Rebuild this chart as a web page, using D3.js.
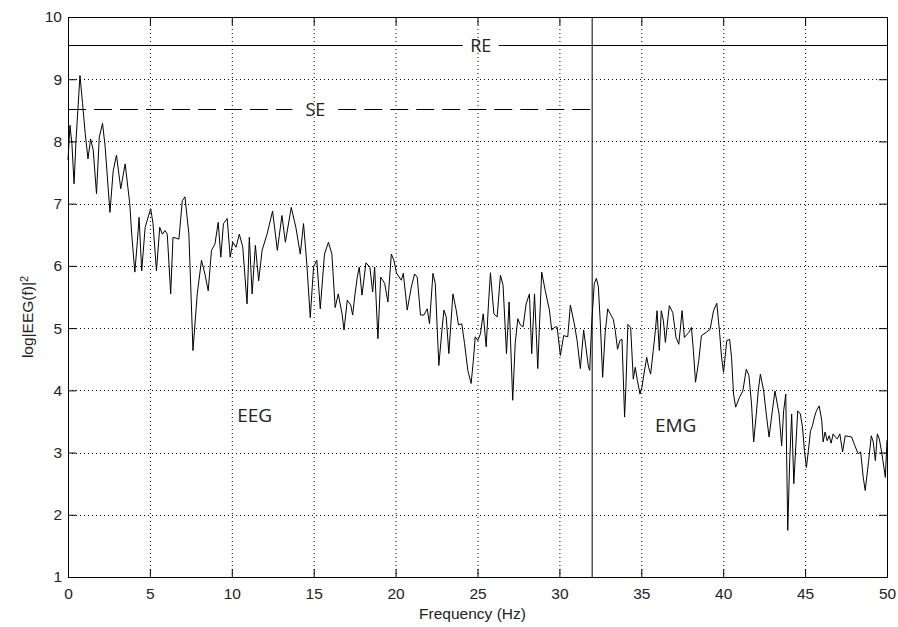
<!DOCTYPE html>
<html>
<head>
<meta charset="utf-8">
<script src="https://cdn.jsdelivr.net/npm/d3@7/dist/d3.min.js"></script>
<style>
  html, body { margin: 0; padding: 0; background: #fff; }
  svg { display: block; }
  .tick text { font-family: "Liberation Sans", Arial, sans-serif; font-size: 15.5px; fill: #222; }
  .note { font-family: "Open Sans", "Noto Sans", sans-serif; font-size: 18px; fill: #222; }
</style>
</head>
<body>
<svg id="chart" width="898" height="627"></svg>
<script>
// spectrum (Hz, log power)
const freqs = [
  0, 0.12, 0.24, 0.37, 0.49, 0.73, 0.89, 1.05, 1.22, 1.38, 1.54, 1.74, 1.91, 2.11, 2.27, 2.56, 2.76, 2.96, 3.22, 3.49,
  3.77, 3.89, 4.08, 4.24, 4.34, 4.50, 4.71, 5.05, 5.19, 5.40, 5.60, 5.76, 5.92, 6.06, 6.27, 6.41, 6.77, 6.98, 7.14, 7.38,
  7.63, 7.89, 8.15, 8.36, 8.56, 8.76, 8.97, 9.17, 9.33, 9.49, 9.72, 9.90, 10.06, 10.26, 10.46, 10.67, 10.93, 11.07, 11.24, 11.44,
  11.64, 11.85, 12.15, 12.49, 12.78, 13.06, 13.27, 13.63, 13.91, 14.18, 14.38, 14.58, 14.79, 14.99, 15.19, 15.40, 15.66, 15.90, 16.11, 16.31,
  16.50, 16.73, 16.85, 17.05, 17.26, 17.38, 17.50, 17.66, 17.78, 17.95, 18.19, 18.43, 18.60, 18.72, 18.92, 19.09, 19.33, 19.53, 19.74, 19.90,
  20.06, 20.35, 20.47, 20.71, 20.96, 21.16, 21.32, 21.52, 21.73, 21.93, 22.07, 22.28, 22.42, 22.64, 22.83, 22.95, 23.09, 23.25, 23.50, 23.70,
  23.84, 24.04, 24.21, 24.41, 24.61, 24.74, 24.86, 25.02, 25.18, 25.35, 25.53, 25.67, 25.79, 26.00, 26.20, 26.40, 26.56, 26.77, 26.93, 27.15,
  27.30, 27.46, 27.62, 27.78, 27.97, 28.17, 28.31, 28.48, 28.68, 28.80, 28.92, 29.13, 29.39, 29.53, 29.74, 29.86, 30.06, 30.26, 30.51, 30.67,
  30.91, 31.08, 31.28, 31.48, 31.63, 31.77, 31.85, 31.97, 32.13, 32.26, 32.38, 32.50, 32.64, 32.79, 32.95, 33.11, 33.29, 33.41, 33.55, 33.69,
  33.82, 33.90, 33.98, 34.06, 34.18, 34.35, 34.51, 34.63, 34.76, 34.92, 35.04, 35.16, 35.33, 35.45, 35.57, 35.73, 35.86, 35.96, 36.10, 36.22,
  36.35, 36.47, 36.71, 36.92, 37.12, 37.29, 37.49, 37.63, 37.90, 38.06, 38.18, 38.31, 38.51, 38.67, 38.96, 39.20, 39.41, 39.61, 39.78, 39.90,
  40.02, 40.22, 40.39, 40.51, 40.63, 40.76, 41.00, 41.20, 41.41, 41.57, 41.73, 41.86, 42.02, 42.14, 42.27, 42.47, 42.63, 42.80, 43.00, 43.16,
  43.41, 43.57, 43.69, 43.82, 43.94, 44.06, 44.18, 44.31, 44.43, 44.55, 44.71, 44.84, 44.96, 45.08, 45.20, 45.33, 45.45, 45.57, 45.69, 45.86,
  46.02, 46.10, 46.22, 46.35, 46.47, 46.59, 46.71, 46.84, 46.96, 47.12, 47.29, 47.45, 47.63, 47.84, 48.04, 48.24, 48.39, 48.55, 48.67, 48.88,
  49.04, 49.16, 49.29, 49.41, 49.53, 49.69, 49.90, 50.00
];
const power = [
  7.70, 8.26, 7.96, 7.32, 8.02, 9.06, 8.61, 8.13, 7.72, 8.04, 7.86, 7.16, 8.07, 8.29, 7.91, 6.86, 7.53, 7.78, 7.24, 7.64,
  7.00, 6.51, 5.90, 6.41, 6.78, 5.92, 6.62, 6.92, 6.68, 5.92, 6.62, 6.51, 6.57, 6.51, 5.55, 6.46, 6.43, 7.05, 7.11, 6.51,
  4.64, 5.55, 6.09, 5.87, 5.60, 6.25, 6.35, 6.70, 6.14, 6.68, 6.76, 6.14, 6.38, 6.30, 6.51, 6.30, 5.39, 6.46, 5.55, 6.33,
  5.76, 6.25, 6.51, 6.88, 6.25, 6.81, 6.38, 6.94, 6.62, 6.19, 6.68, 6.03, 5.17, 5.98, 6.09, 5.31, 6.19, 6.38, 6.19, 5.33,
  5.55, 5.23, 4.97, 5.45, 5.37, 5.21, 5.50, 5.82, 5.98, 5.53, 6.05, 5.98, 5.58, 5.98, 4.83, 5.82, 5.72, 5.42, 6.19, 6.09,
  5.88, 5.77, 5.88, 5.29, 5.66, 5.87, 5.82, 5.21, 5.21, 5.31, 5.07, 5.88, 5.72, 4.40, 4.97, 5.29, 5.18, 4.59, 5.55, 5.29,
  5.05, 5.07, 4.75, 4.32, 4.11, 4.46, 4.86, 4.80, 4.91, 5.23, 4.70, 5.39, 5.89, 5.23, 5.18, 5.85, 5.69, 4.59, 5.42, 3.84,
  4.75, 5.15, 5.05, 5.02, 5.39, 5.55, 4.59, 5.55, 4.35, 5.15, 5.90, 5.61, 5.29, 4.97, 5.02, 5.02, 4.56, 4.88, 4.86, 5.37,
  5.07, 4.80, 4.35, 4.97, 4.67, 4.38, 4.32, 5.07, 5.72, 5.80, 5.66, 5.07, 4.21, 4.91, 5.31, 5.23, 5.14, 4.96, 4.66, 4.80,
  4.82, 4.21, 3.57, 4.05, 5.06, 5.01, 4.18, 4.37, 4.16, 3.94, 4.05, 4.26, 4.53, 4.37, 4.26, 4.64, 4.96, 5.28, 4.64, 5.28,
  5.12, 4.77, 5.36, 5.25, 4.85, 4.74, 5.28, 4.85, 4.93, 5.01, 4.64, 4.13, 4.48, 4.88, 4.93, 4.98, 5.28, 5.40, 4.93, 4.53,
  4.29, 4.80, 4.82, 4.53, 3.94, 3.73, 3.89, 3.99, 4.34, 4.24, 3.78, 3.17, 3.62, 3.99, 4.26, 3.99, 3.62, 3.25, 3.67, 3.99,
  3.62, 3.11, 3.67, 3.94, 1.75, 2.87, 3.62, 2.50, 3.09, 3.67, 3.62, 3.41, 3.03, 2.76, 3.03, 3.35, 3.43, 3.57, 3.67, 3.75,
  3.51, 3.17, 3.33, 3.19, 3.27, 3.15, 3.30, 3.25, 3.22, 3.30, 3.01, 3.27, 3.26, 3.25, 3.11, 2.98, 3.01, 2.60, 2.39, 2.87,
  3.27, 3.17, 2.87, 3.30, 3.22, 2.98, 2.60, 3.20
];

const xTicks = [0, 5, 10, 15, 20, 25, 30, 35, 40, 45, 50];
const yTicks = [1, 2, 3, 4, 5, 6, 7, 8, 9, 10];

// reference levels and band split
const reLevel = 9.55;
const seLevel = 8.52;
const splitHz = 32;
const notes = [
  { text: "EEG", hz: 11.4, v: 3.6 },
  { text: "EMG", hz: 37.1, v: 3.44 }
];

const svg = d3.select("#chart");
const margin = { top: 17, right: 11, bottom: 50, left: 68 };
const width = 898 - margin.left - margin.right;
const height = 627 - margin.top - margin.bottom;

const x = d3.scaleLinear().domain([0, 50]).range([0, width]);
const y = d3.scaleLinear().domain([1, 10]).range([height, 0]);

const g = svg.append("g").attr("transform", `translate(${margin.left},${margin.top})`);

// dotted grid
g.append("g")
  .selectAll("line")
  .data(xTicks.slice(1, -1))
  .join("line")
  .attr("x1", d => x(d) + 0.5).attr("x2", d => x(d) + 0.5)
  .attr("y1", 0).attr("y2", height)
  .attr("stroke", "#000").attr("stroke-dasharray", "1,3");
g.append("g")
  .selectAll("line")
  .data(yTicks.slice(1, -1))
  .join("line")
  .attr("y1", d => Math.round(y(d)) + 0.5).attr("y2", d => Math.round(y(d)) + 0.5)
  .attr("x1", 0).attr("x2", width)
  .attr("stroke", "#000").attr("stroke-dasharray", "1,3");

// axes, ticks pointing inward like matlab
const tickLen = 8;
const xAxis = g.append("g").attr("transform", `translate(0,${height})`)
  .call(d3.axisBottom(x).tickValues(xTicks).tickSize(-tickLen).tickPadding(tickLen + 3));
const yAxis = g.append("g")
  .call(d3.axisLeft(y).tickValues(yTicks).tickSize(-tickLen).tickPadding(6));
g.append("g").call(d3.axisTop(x).tickValues(xTicks).tickSize(-tickLen).tickFormat(""));
g.append("g").attr("transform", `translate(${width},0)`)
  .call(d3.axisRight(y).tickValues(yTicks).tickSize(-tickLen).tickFormat(""));
g.selectAll(".domain").attr("stroke", "#000");
g.selectAll(".tick line").attr("stroke", "#000");

// the spectrum
const pts = freqs.map((f, i) => [f, power[i]]);
g.append("path")
  .datum(pts)
  .attr("fill", "none")
  .attr("stroke", "#000")
  .attr("stroke-width", 1)
  .attr("d", d3.line().x(d => x(d[0])).y(d => y(d[1])));

// band boundary
g.append("line")
  .attr("x1", x(splitHz)).attr("x2", x(splitHz))
  .attr("y1", 0).attr("y2", height)
  .attr("stroke", "#000");

// RE line with a gap for its label
const reY = Math.round(y(reLevel)) + 0.5;
const reMid = 25.2;
g.append("line").attr("x1", 0).attr("x2", x(reMid - 1.1)).attr("y1", reY).attr("y2", reY).attr("stroke", "#000");
g.append("line").attr("x1", x(reMid + 1.1)).attr("x2", width).attr("y1", reY).attr("y2", reY).attr("stroke", "#000");
g.append("text").attr("class", "note").attr("x", x(reMid)).attr("y", reY)
  .attr("text-anchor", "middle").attr("dy", "0.35em").text("RE");

// SE dashed line, stops at the split
const seY = Math.round(y(seLevel)) + 0.5;
const seMid = 15.1;
const dash = "18,8";
g.append("line").attr("x1", 0).attr("x2", x(seMid - 1.4)).attr("y1", seY).attr("y2", seY)
  .attr("stroke", "#000").attr("stroke-dasharray", dash);
g.append("line").attr("x1", x(seMid + 1.4)).attr("x2", x(splitHz)).attr("y1", seY).attr("y2", seY)
  .attr("stroke", "#000").attr("stroke-dasharray", dash);
g.append("text").attr("class", "note").attr("x", x(seMid)).attr("y", seY)
  .attr("text-anchor", "middle").attr("dy", "0.35em").text("SE");

g.selectAll("text.band")
  .data(notes)
  .join("text")
  .attr("class", "note band")
  .attr("x", d => x(d.hz)).attr("y", d => y(d.v))
  .attr("text-anchor", "middle").attr("dy", "0.35em")
  .style("font-size", "19px")
  .text(d => d.text);

// axis labels
svg.append("text")
  .attr("x", margin.left + width / 2 - 5)
  .attr("y", 619)
  .attr("text-anchor", "middle")
  .style("font-family", "'Liberation Sans', Arial, sans-serif")
  .style("font-size", "15.5px").style("fill", "#222")
  .text("Frequency (Hz)");

const yl = svg.append("text")
  .attr("transform", `translate(33,${margin.top + height / 2 + 20}) rotate(-90)`)
  .attr("text-anchor", "middle")
  .style("font-family", "'Liberation Sans', Arial, sans-serif")
  .style("font-size", "15.5px").style("fill", "#222");
yl.append("tspan").text("log|EEG(f)|");
yl.append("tspan").attr("dy", "-0.45em").style("font-size", "11px").text("2");
</script>
</body>
</html>
